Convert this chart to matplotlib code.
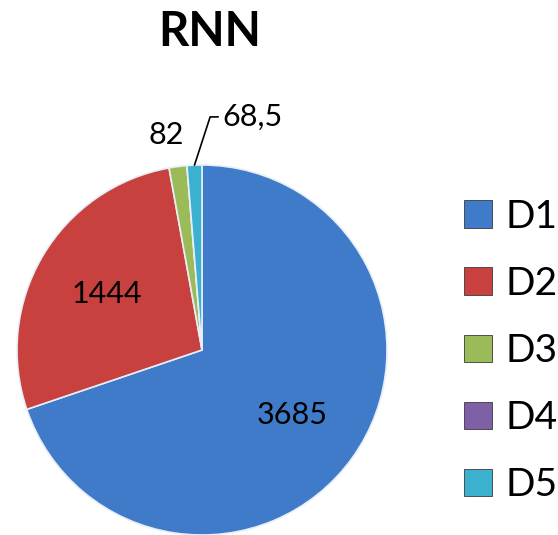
import numpy as np
import matplotlib.pyplot as plt

categories = ['D1', 'D2', 'D3', 'D4', 'D5']
values = [3685, 1444, 82, 0, 68.5]
value_labels = ['3685', '1444', '82', '', '68,5']
colors = ['#3f7bc9', '#c8413f', '#9bbb59', '#7f5fa6', '#3bb0cf']

plt.rcParams['font.family'] = ['Lato', 'DejaVu Sans']

fig = plt.figure(figsize=(5.58, 5.35), dpi=100)
ax = fig.add_axes([17 / 558, 0.0, 370 / 558, 370 / 535])

wedges, _ = ax.pie(values, colors=colors, startangle=90, counterclock=False,
                   wedgeprops=dict(edgecolor='#e8eef8', linewidth=1.2))
ax.set_xlim(-1, 1)
ax.set_ylim(-1, 1)

# value labels: big slices inside, small ones outside
for w, lab in zip(wedges, value_labels):
    if not lab:
        continue
    mid = np.deg2rad((w.theta1 + w.theta2) / 2)
    frac = (w.theta2 - w.theta1) / 360
    if frac > 0.1:
        r = 0.6
        ax.text(r * np.cos(mid), r * np.sin(mid), lab, ha='center', va='center',
                fontsize=22)
    elif lab == '82':
        r = 1.17
        ax.text(r * np.cos(mid) - 0.04, r * np.sin(mid), lab, ha='center',
                va='center', fontsize=22)
    else:
        ax.annotate(lab, xy=(np.cos(mid), np.sin(mid)), xytext=(0.11, 1.26),
                    ha='left', va='center', fontsize=22,
                    arrowprops=dict(arrowstyle='-', color='black', lw=1.2,
                                    relpos=(0, 0.5), shrinkA=1, shrinkB=0,
                                    connectionstyle='angle,angleA=0,angleB=72,rad=0'))

fig.text(210 / 558, 1 - 32 / 535, 'RNN', ha='center', va='center',
         fontsize=34, fontweight='bold')

leg = fig.legend(wedges, categories, loc='center left',
                 bbox_to_anchor=(464 / 558, 1 - 351 / 535),
                 frameon=False, fontsize=28, handlelength=0.72, handleheight=0.72,
                 handletextpad=0.35, labelspacing=0.8, borderpad=0, borderaxespad=0)
for h in leg.legend_handles:
    h.set_edgecolor('#3a3a3a')
    h.set_linewidth(0.6)

fig.savefig('out.png', dpi=100)
